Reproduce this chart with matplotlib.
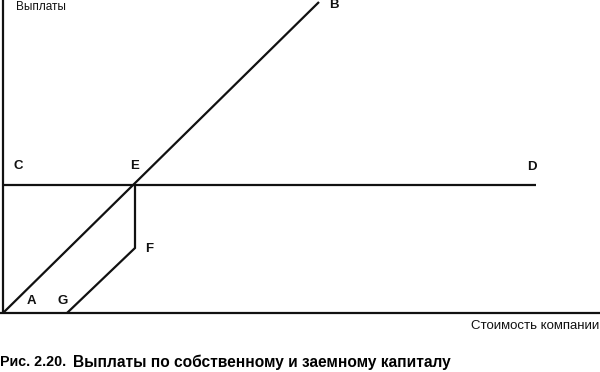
import matplotlib
matplotlib.use("Agg")
import matplotlib.pyplot as plt

plt.rcParams['font.family'] = ['Liberation Sans', 'DejaVu Sans']

# Data (in chart units: origin at A)
line_ab_x = [0, 316]
line_ab_y = [0, 311]
line_cd_x = [0, 533]
line_cd_y = [128, 128]
line_gfe_x = [64, 132, 132]
line_gfe_y = [0, 65, 128]
axis_y_x = [0, 0]
axis_y_y = [0, 313]
axis_x_x = [-3, 597]
axis_x_y = [0, 0]

point_labels = ['C', 'E', 'D', 'F', 'A', 'G', 'B']
label_x = [11, 127, 524, 142, 24, 55, 326]
label_y = [147, 147, 146, 64, 12, 12, 308]

fig = plt.figure(figsize=(6.0, 3.72), dpi=100)
ax = fig.add_axes([0, 0, 1, 1])
ax.set_xlim(-3, 597)
ax.set_ylim(-59, 313)
ax.axis('off')

lw = 1.6
for xs, ys in [(axis_y_x, axis_y_y), (axis_x_x, axis_x_y), (line_ab_x, line_ab_y),
               (line_cd_x, line_cd_y), (line_gfe_x, line_gfe_y)]:
    ax.plot(xs, ys, color='#111111', lw=lw, solid_capstyle='butt', solid_joinstyle='miter')

for t, x, y in zip(point_labels, label_x, label_y):
    ax.text(x, y, t, fontsize=9.5, fontweight='bold', color='#111111', va='center', ha='left')

ax.text(13, 306, 'Выплаты', fontsize=8.5, color='#111111', va='center', ha='left')
ax.text(596, -13, 'Стоимость компании', fontsize=9.5, color='#111111', va='center', ha='right')

fig.text(0.0, 1 - 362 / 372, 'Рис. 2.20.', fontsize=10.3, fontweight='bold',
         family=['Liberation Sans Narrow', 'Liberation Sans'], va='center', ha='left')
fig.text(73 / 600, 1 - 362 / 372, 'Выплаты по собственному и заемному капиталу', fontsize=11.2,
         fontweight='bold', va='center', ha='left')

fig.savefig('out.png', dpi=100)
